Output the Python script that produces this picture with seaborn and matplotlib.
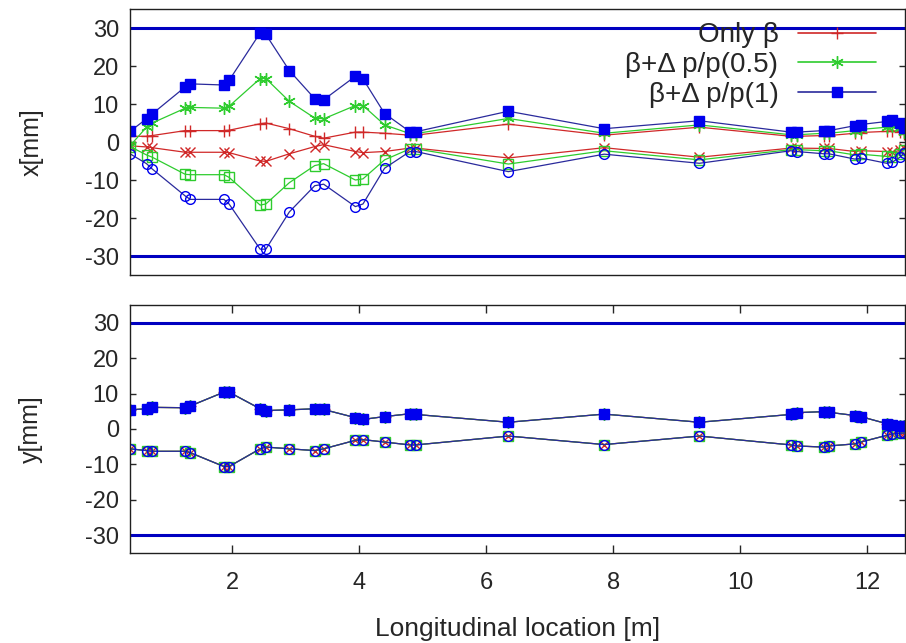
import numpy as np
import matplotlib
matplotlib.use('Agg')
import matplotlib.pyplot as plt
import seaborn as sns

# --- data ---
s_pos = [0.39, 0.65, 0.74, 1.26, 1.34, 1.87, 1.95, 2.44, 2.53, 2.90, 3.30, 3.44, 3.94, 4.06, 4.40,
         4.80, 4.89, 6.35, 7.86, 9.36, 10.80, 10.89, 11.32, 11.40, 11.81, 11.90, 12.31, 12.40, 12.52, 12.58]

# horizontal envelope (top panel)
x_beta_up = [1.5, 1.5, 1.7, 3.0, 3.0, 3.0, 3.1, 4.8, 5.0, 3.5, 1.5, 1.0, 2.6, 2.6, 2.3,
             1.8, 1.8, 4.7, 1.8, 3.9, 1.5, 1.5, 1.7, 1.7, 2.3, 2.5, 2.8, 3.0, 2.7, 2.0]
x_beta_dn = [-1.0, -1.3, -1.5, -2.7, -2.7, -2.7, -2.8, -5.0, -5.1, -3.1, -1.2, -0.7, -2.5, -2.8, -2.5,
             -1.6, -1.6, -4.2, -1.5, -4.0, -1.6, -1.6, -1.7, -1.7, -2.5, -2.3, -2.5, -2.7, -2.2, -1.6]
x_dp05_up = [-1.0, 3.9, 5.0, 8.9, 9.1, 8.9, 9.4, 16.7, 16.7, 10.7, 6.3, 6.1, 9.6, 9.6, 4.5,
             2.2, 2.2, 6.2, 2.3, 4.5, 1.9, 1.9, 2.3, 2.3, 3.0, 3.3, 3.9, 4.2, 3.6, 2.6]
x_dp05_dn = [-1.2, -3.4, -4.0, -8.5, -8.6, -8.6, -9.3, -16.6, -16.3, -10.7, -6.2, -5.7, -10.0, -9.7, -4.7,
             -1.8, -1.8, -5.8, -2.3, -4.7, -2.0, -2.0, -2.3, -2.3, -3.4, -3.2, -3.8, -4.0, -3.2, -2.2]
x_dp1_up = [2.8, 6.1, 7.4, 14.5, 15.3, 15.0, 16.2, 28.7, 28.3, 18.8, 11.4, 11.1, 17.3, 16.6, 7.5,
            2.7, 2.7, 8.1, 3.5, 5.6, 2.6, 2.6, 3.0, 3.0, 4.3, 4.6, 5.4, 5.9, 5.1, 3.8]
x_dp1_dn = [-3.1, -5.7, -7.1, -14.2, -15.1, -15.1, -16.3, -28.2, -28.2, -18.4, -11.5, -11.1, -17.0, -16.3, -6.9,
            -2.5, -2.5, -7.8, -3.2, -5.6, -2.3, -2.5, -3.1, -3.1, -4.5, -4.2, -5.6, -5.3, -4.0, -2.9]

# vertical envelope (bottom panel) - same for all three cases
y_up = [5.4, 5.7, 6.1, 6.0, 6.5, 10.4, 10.4, 5.7, 5.2, 5.4, 5.7, 5.5, 3.2, 2.7, 3.5,
        4.3, 4.1, 1.9, 4.2, 1.9, 4.1, 4.6, 4.9, 4.7, 3.8, 3.5, 1.5, 1.0, 0.7, 0.7]
y_dn = [-5.6, -6.1, -6.3, -6.3, -6.7, -10.6, -10.6, -5.6, -5.1, -5.6, -6.1, -5.6, -3.2, -3.0, -3.7,
        -4.5, -4.5, -2.0, -4.4, -2.0, -4.5, -4.8, -5.1, -4.8, -4.2, -3.7, -1.8, -1.4, -1.2, -1.2]

aperture = [30, -30]
labels = ['Only β', 'β+Δ p/p(0.5)', 'β+Δ p/p(1)']
y_ticks = [-30, -20, -10, 0, 10, 20, 30]
s_ticks = [2, 4, 6, 8, 10, 12]

RED = '#d02828'
GREEN = '#2ecc2e'
BLUE_LINE = '#2a2a9c'
BLUE = '#0000ee'
ASTER = (6, 2, 0)

sns.set_style('ticks')
plt.rcParams['font.family'] = ['Liberation Sans', 'DejaVu Sans']
plt.rcParams['axes.unicode_minus'] = False
plt.rcParams['axes.linewidth'] = 1.0

fig = plt.figure(figsize=(9.06, 6.43), dpi=100)
ax1 = fig.add_axes([0.1435, 0.5723, 0.8555, 0.4137])
ax2 = fig.add_axes([0.1435, 0.1400, 0.8555, 0.3857])


def trace(ax, y, color, marker, ms, label=None, mfc=None, mec=None, lc=None):
    sns.lineplot(x=s_pos, y=y, ax=ax, color=lc or color, marker=marker, markersize=ms,
                 markerfacecolor=mfc if mfc is not None else color,
                 markeredgecolor=mec or color, markeredgewidth=1.0, linewidth=0.9,
                 estimator=None, sort=False, label=label, legend=False)


# top panel: horizontal
trace(ax1, x_beta_up, RED, '+', 8, label=labels[0])
trace(ax1, x_beta_dn, RED, 'x', 7)
trace(ax1, x_dp05_up, GREEN, ASTER, 9, label=labels[1])
trace(ax1, x_dp05_dn, GREEN, 's', 7, mfc='none')
trace(ax1, x_dp1_up, BLUE, 's', 7.5, label=labels[2], lc=BLUE_LINE)
trace(ax1, x_dp1_dn, BLUE, 'o', 7, mfc='none', lc=BLUE_LINE)

# bottom panel: vertical
trace(ax2, y_up, RED, '+', 8)
trace(ax2, y_dn, RED, 'x', 7)
trace(ax2, y_up, GREEN, ASTER, 9)
trace(ax2, y_dn, GREEN, 's', 7, mfc='none')
trace(ax2, y_up, BLUE, 's', 7.5, lc=BLUE_LINE)
trace(ax2, y_dn, BLUE, 'o', 7, mfc='none', lc=BLUE_LINE)

for ax in (ax1, ax2):
    for a in aperture:
        ax.axhline(a, color='#0000c0', linewidth=2.2, zorder=1)
    ax.set_xlim(0.39, 12.6)
    ax.set_ylim(-35, 35)
    ax.set_yticks(y_ticks)
    ax.tick_params(axis='y', direction='in', length=4, width=1.0, labelsize=17,
                   left=True, right=True, pad=8)
    for sp in ax.spines.values():
        sp.set_visible(True)
        sp.set_color('#202020')

ax1.set_xticks([])
ax2.set_xticks(s_ticks)
ax2.tick_params(axis='x', direction='in', length=6, width=1.0, labelsize=17,
                top=True, bottom=True, pad=14)

ax1.set_ylabel('x[mm]', fontsize=18, labelpad=30)
ax2.set_ylabel('y[mm]', fontsize=18, labelpad=30)
ax2.set_xlabel('Longitudinal location [m]', fontsize=19, labelpad=16)
ax1.set_xlabel('')

leg = ax1.legend(loc='upper right', bbox_to_anchor=(0.962, 0.95), frameon=False,
                 markerfirst=False, fontsize=20, handlelength=2.8, labelspacing=0.13,
                 borderpad=0, borderaxespad=0, handletextpad=0.7)
for h in leg.legend_handles:
    h.set_linewidth(1.2)

fig.savefig('out.png', dpi=100)
